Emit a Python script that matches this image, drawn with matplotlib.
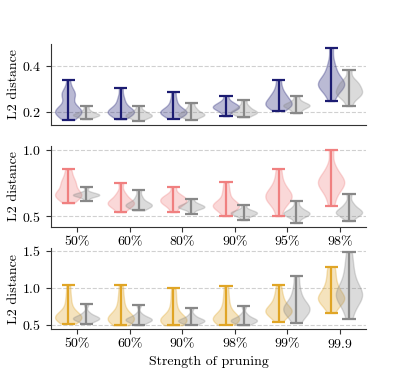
import numpy as np
import matplotlib
matplotlib.use("Agg")
import matplotlib.pyplot as plt

# --- data ----------------------------------------------------------------
labels_mid = ["50%", "60%", "80%", "90%", "95%", "98%"]
labels_bot = ["50%", "60%", "90%", "98%", "99%", "99.9"]

top_blue = [
    [0.168, 0.18, 0.19, 0.195, 0.2, 0.2, 0.205, 0.21, 0.215, 0.22, 0.23, 0.26, 0.275, 0.28, 0.285, 0.30, 0.34],
    [0.17, 0.185, 0.19, 0.195, 0.2, 0.2, 0.205, 0.21, 0.215, 0.22, 0.235, 0.25, 0.27, 0.305],
    [0.173, 0.185, 0.19, 0.195, 0.2, 0.2, 0.205, 0.21, 0.215, 0.225, 0.24, 0.26, 0.288],
    [0.183, 0.2, 0.21, 0.215, 0.22, 0.222, 0.225, 0.23, 0.235, 0.24, 0.25, 0.272],
    [0.207, 0.22, 0.225, 0.23, 0.235, 0.24, 0.245, 0.25, 0.26, 0.27, 0.275, 0.29, 0.31, 0.34],
    [0.249, 0.28, 0.3, 0.31, 0.315, 0.32, 0.325, 0.33, 0.34, 0.35, 0.37, 0.39, 0.42, 0.481],
]
top_gray = [
    [0.17, 0.18, 0.185, 0.187, 0.19, 0.19, 0.195, 0.2, 0.21, 0.227],
    [0.163, 0.175, 0.18, 0.185, 0.185, 0.19, 0.195, 0.2, 0.21, 0.229],
    [0.167, 0.18, 0.185, 0.19, 0.19, 0.195, 0.2, 0.21, 0.22, 0.239],
    [0.178, 0.19, 0.195, 0.2, 0.2, 0.205, 0.21, 0.22, 0.23, 0.252],
    [0.196, 0.21, 0.22, 0.225, 0.23, 0.23, 0.235, 0.24, 0.25, 0.27],
    [0.227, 0.26, 0.27, 0.28, 0.285, 0.29, 0.3, 0.31, 0.32, 0.33, 0.34, 0.386],
]

mid_red = [
    [0.598, 0.63, 0.65, 0.66, 0.66, 0.67, 0.69, 0.72, 0.75, 0.76, 0.8, 0.853],
    [0.53, 0.56, 0.58, 0.59, 0.6, 0.6, 0.61, 0.63, 0.65, 0.68, 0.75],
    [0.53, 0.57, 0.59, 0.6, 0.61, 0.62, 0.63, 0.64, 0.65, 0.67, 0.723],
    [0.5, 0.54, 0.56, 0.57, 0.58, 0.58, 0.59, 0.6, 0.62, 0.66, 0.7, 0.755],
    [0.5, 0.57, 0.6, 0.62, 0.64, 0.65, 0.66, 0.68, 0.7, 0.73, 0.78, 0.853],
    [0.578, 0.65, 0.69, 0.72, 0.74, 0.75, 0.76, 0.78, 0.8, 0.83, 0.88, 1.0],
]
mid_gray = [
    [0.618, 0.645, 0.655, 0.658, 0.66, 0.665, 0.67, 0.68, 0.718],
    [0.543, 0.565, 0.575, 0.58, 0.585, 0.59, 0.6, 0.62, 0.65, 0.70],
    [0.52, 0.55, 0.56, 0.565, 0.57, 0.575, 0.58, 0.59, 0.6, 0.628],
    [0.47, 0.5, 0.51, 0.52, 0.525, 0.53, 0.535, 0.55, 0.588],
    [0.448, 0.49, 0.505, 0.515, 0.52, 0.525, 0.53, 0.545, 0.57, 0.618],
    [0.463, 0.5, 0.515, 0.525, 0.53, 0.535, 0.55, 0.57, 0.6, 0.668],
]

bot_yellow = [
    [0.513, 0.55, 0.57, 0.59, 0.6, 0.6, 0.61, 0.63, 0.66, 0.72, 0.8, 0.9, 1.03],
    [0.49, 0.53, 0.55, 0.57, 0.58, 0.58, 0.6, 0.62, 0.66, 0.72, 0.8, 0.9, 1.03],
    [0.49, 0.52, 0.54, 0.55, 0.56, 0.56, 0.58, 0.6, 0.64, 0.7, 0.78, 0.88, 0.99],
    [0.5, 0.53, 0.55, 0.57, 0.58, 0.58, 0.6, 0.62, 0.66, 0.72, 0.8, 0.9, 1.02],
    [0.54, 0.6, 0.64, 0.66, 0.68, 0.68, 0.7, 0.73, 0.76, 0.8, 0.86, 0.93, 1.03],
    [0.657, 0.75, 0.8, 0.83, 0.85, 0.86, 0.88, 0.92, 0.97, 1.03, 1.1, 1.2, 1.284],
]
bot_gray = [
    [0.51, 0.55, 0.57, 0.58, 0.58, 0.59, 0.6, 0.62, 0.66, 0.773],
    [0.49, 0.53, 0.55, 0.56, 0.57, 0.57, 0.58, 0.6, 0.64, 0.764],
    [0.5, 0.52, 0.54, 0.55, 0.55, 0.56, 0.57, 0.59, 0.63, 0.724],
    [0.49, 0.52, 0.54, 0.55, 0.56, 0.56, 0.57, 0.6, 0.64, 0.746],
    [0.522, 0.6, 0.65, 0.68, 0.7, 0.72, 0.74, 0.78, 0.82, 0.9, 1.0, 1.154],
    [0.58, 0.72, 0.8, 0.85, 0.88, 0.9, 0.93, 0.97, 1.02, 1.1, 1.2, 1.32, 1.48],
]

# --- style -----------------------------------------------------------------
plt.rcParams['font.family'] = 'serif'
plt.rcParams['font.serif'] = ['cmr10', 'DejaVu Serif']
plt.rcParams['mathtext.fontset'] = 'cm'
plt.rcParams['axes.formatter.use_mathtext'] = True
plt.rcParams['font.size'] = 10

NAVY = '#1c1c72'
RED = '#f08080'
GOLD = '#e0a526'
GRAY = '#888888'


def violins(ax, data, pos, color):
    vp = ax.violinplot(data, positions=pos, widths=0.5, bw_method=0.45)
    for b in vp['bodies']:
        b.set_facecolor(color)
        b.set_edgecolor(color)
        b.set_alpha(0.3)
    for key in ['cbars', 'cmins', 'cmaxes']:
        vp[key].set_color(color)
        vp[key].set_linewidth(1.6)


def style_axes(ax, yticks):
    ax.spines['top'].set_visible(False)
    ax.spines['right'].set_visible(False)
    ax.spines['left'].set_color('#333333')
    ax.spines['bottom'].set_color('#333333')
    ax.set_yticks(yticks)
    ax.yaxis.grid(True, linestyle='--', color='#d0d0d0', linewidth=0.8)
    ax.set_axisbelow(True)
    ax.set_xlim(-0.5, 5.5)
    ax.set_xticks(np.arange(6))
    ax.tick_params(axis='both', length=3.5, color='#333333')
    ax.set_ylabel("L2 distance", labelpad=1)


fig = plt.figure(figsize=(4.07, 3.7), dpi=100)
gs = fig.add_gridspec(3, 1, left=0.125, right=0.9, top=0.881, bottom=0.111,
                      hspace=0.27)

x = np.arange(6)
off = 0.17

#--- top panel ---
ax1 = fig.add_subplot(gs[0])
violins(ax1, top_blue, x - off, NAVY)
violins(ax1, top_gray, x + off, GRAY)
style_axes(ax1, [0.2, 0.4])
ax1.set_xticklabels([])
ax1.tick_params(axis='x', length=0)

#--- middle panel ---
ax2 = fig.add_subplot(gs[1])
violins(ax2, mid_red, x - off, RED)
violins(ax2, mid_gray, x + off, GRAY)
style_axes(ax2, [0.5, 1.0])
ax2.set_xticklabels(labels_mid)

#--- bottom panel ---
ax3 = fig.add_subplot(gs[2])
violins(ax3, bot_yellow, x - off, GOLD)
violins(ax3, bot_gray, x + off, GRAY)
style_axes(ax3, [0.5, 1.0, 1.5])
ax3.set_xticklabels(labels_bot)
ax3.set_xlabel("Strength of pruning")

fig.align_ylabels([ax1, ax2, ax3])

plt.savefig('out.png', dpi=100)
